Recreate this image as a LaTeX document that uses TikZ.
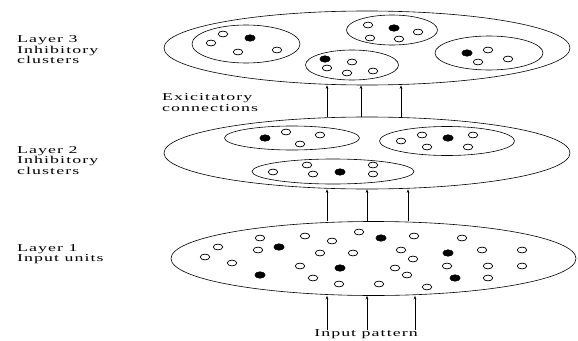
\documentclass[tikz,border=0pt]{standalone}
\usepackage{fontspec}
\usetikzlibrary{shapes.geometric,arrows.meta}
\newfontfamily\lblfont[LetterSpace=6]{Liberation Serif}
\newcommand\lblwide[1]{\scalebox{1.7}[1]{#1}}
\begin{document}
\begin{tikzpicture}[x=1pt,y=-1pt,
  layer/.style={ellipse,draw,line width=0.6pt,inner sep=0pt},
  cluster/.style={ellipse,draw,line width=0.6pt,inner sep=0pt},
  unit/.style={ellipse,draw,line width=0.7pt,inner sep=0pt,minimum width=9.5pt,minimum height=5.8pt},
  fired/.style={ellipse,fill=black,draw=black,inner sep=0pt,minimum width=10.5pt,minimum height=6.6pt},
  conn/.style={line width=0.7pt,-{Stealth[length=3.5pt,width=2.6pt]}},
  lbl/.style={font=\lblfont\fontsize{10.5}{10.6}\selectfont,align=left,inner sep=0pt}]
\useasboundingbox (0,0) rectangle (578,340);

% layers
\node[layer,minimum width=406pt,minimum height=74pt] (L3) at (367,48) {};
\node[layer,minimum width=406pt,minimum height=72pt] (L2) at (367,153) {};
\node[layer,minimum width=405pt,minimum height=74pt] (L1) at (373.5,258.5) {};

% layer 3 clusters
\node[cluster,minimum width=108pt,minimum height=38pt] (A) at (246,44) {};
\node[cluster,minimum width=91pt,minimum height=30pt] (B) at (392,30) {};
\node[cluster,minimum width=93pt,minimum height=30pt] (C) at (352,65) {};
\node[cluster,minimum width=108pt,minimum height=34pt] (D) at (489,53) {};

% layer 2 clusters
\node[cluster,minimum width=135pt,minimum height=24pt] (E) at (292,138) {};
\node[cluster,minimum width=135pt,minimum height=29pt] (F) at (447,141) {};
\node[cluster,minimum width=162pt,minimum height=25pt] (G) at (333,171.5) {};

% units, layer 3
\foreach \p [count=\i] in {(223,34),(211,43),(238,52),(277,50),
  (368,25),(418,32),(370,38),(399,39),
  (352,62),(327,68),(347,73),(373,71),
  (488,50),(478,62),(508,59)}
  \node[unit] (u3-\i) at \p {};
\foreach \p [count=\i] in {(250,38),(394,28),(325,59),(467,53)}
  \node[fired] (f3-\i) at \p {};

% units, layer 2
\foreach \p [count=\i] in {(286,132),(320,135),(300,144),
  (401,141),(422,135),(427,147),(473,135),(468,147),
  (273,172),(307,165),(313,174),(373,165),(373,174)}
  \node[unit] (u2-\i) at \p {};
\foreach \p [count=\i] in {(265,138),(448,138),(340,172)}
  \node[fired] (f2-\i) at \p {};

% units, layer 1
\foreach \p [count=\i] in {(260,238),(218,247),(205,257),(232,263),(258,250),
  (305,236),(332,241),(359,232),(414,236),(462,238),(320,253),(353,253),
  (401,250),(413,259),(482,250),(522,250),(300,266),(395,268),(407,275),
  (447,266),(488,266),(522,266),(313,278),(488,278),(339,284),(379,284),(427,287)}
  \node[unit] (u1-\i) at \p {};
\foreach \p [count=\i] in {(279,247),(381,238),(448,253),(340,268),(260,275),(455,278)}
  \node[fired] (f1-\i) at \p {};

% connections between layers
\foreach \x in {327,361,401}
  \draw[conn] (L2.north -| \x,0) -- (L3.south -| \x,0);
\foreach \x in {327,367,408}
  \draw[conn] (L1.north -| \x,0) -- (L2.south -| \x,0);

% input pattern
\node[lbl,anchor=north] (inp) at (366,329.5) {\lblwide{Input pattern}};
\foreach \x in {327,367,415}
  \draw[conn] (inp.north -| \x,0) -- (L1.south -| \x,0);

% labels
\node[lbl,anchor=north west] (t3) at (17,35.5) {\lblwide{Layer 3}\\\lblwide{Inhibitory}\\\lblwide{clusters}};
\node[lbl,anchor=north west] (t2) at (17,146) {\lblwide{Layer 2}\\\lblwide{Inhibitory}\\\lblwide{clusters}};
\node[lbl,anchor=north west] (t1) at (17,244) {\lblwide{Layer 1}\\\lblwide{Input units}};
\node[lbl,anchor=north west] (tex) at (162,93.5) {\lblwide{Exicitatory}\\\lblwide{connections}};
\end{tikzpicture}
\end{document}
